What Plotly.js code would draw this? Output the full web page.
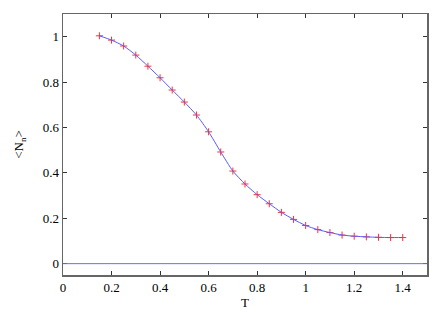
<!DOCTYPE html>
<html>
<head>
<meta charset="utf-8">
<script src="https://cdn.plot.ly/plotly-3.0.1.min.js"></script>
<style>html,body{margin:0;padding:0;background:#fff}#chart{width:448px;height:313px}</style>
</head>
<body>
<div id="chart"></div>
<script>
const temperature = [0.15,0.2,0.25,0.3,0.35,0.4,0.45,0.5,0.55,0.6,0.65,0.7,0.75,0.8,0.85,0.9,0.95,1.0,1.05,1.1,1.15,1.2,1.25,1.3,1.35,1.4];
const meanN = [1.004,0.985,0.959,0.919,0.870,0.819,0.765,0.712,0.655,0.581,0.492,0.408,0.351,0.304,0.264,0.226,0.195,0.168,0.150,0.137,0.126,0.121,0.118,0.116,0.115,0.115];
const xTicks = [0,0.2,0.4,0.6,0.8,1,1.2,1.4];
const yTicks = [0,0.2,0.4,0.6,0.8,1];
const baseline = 0;

const font = {family: '"Liberation Serif", "DejaVu Serif", serif', size: 13, color: '#000'};

const traces = [
  {x: temperature, y: meanN, mode: 'markers', marker: {symbol: 'cross-thin-open', size: 5, color: '#ff3030', line: {color: '#ff3030', width: 1}}, showlegend: false},
  {x: temperature, y: meanN, mode: 'lines', line: {color: '#5a5aff', width: 1, shape: 'spline', smoothing: 0.6}, hoverinfo: 'skip', showlegend: false}
];

const axisCommon = {
  showgrid: false, zeroline: false, ticks: 'inside', ticklen: 4, tickwidth: 1, tickcolor: '#333',
  showline: true, linecolor: '#666', linewidth: 1.5, mirror: 'ticks', tickfont: font
};

const layout = {
  width: 448, height: 313,
  margin: {l: 63, r: 21, t: 14, b: 38},
  paper_bgcolor: '#fff', plot_bgcolor: '#fff',
  font: font,
  xaxis: Object.assign({}, axisCommon, {
    range: [0, 1.5], tickvals: xTicks, ticktext: xTicks.map(String),
    title: {text: 'T', font: font, standoff: 3}
  }),
  yaxis: Object.assign({}, axisCommon, {
    range: [-0.05, 1.1], tickvals: yTicks, ticktext: yTicks.map(String),
    title: {text: '&lt;N<sub>n</sub>&gt;', font: font, standoff: 16}
  }),
  shapes: [{type: 'line', xref: 'paper', yref: 'y', x0: 0, x1: 1, y0: baseline, y1: baseline, line: {color: '#6a6aff', width: 1}, layer: 'above'}]
};

Plotly.newPlot('chart', traces, layout, {displayModeBar: false, staticPlot: true});
</script>
</body>
</html>
